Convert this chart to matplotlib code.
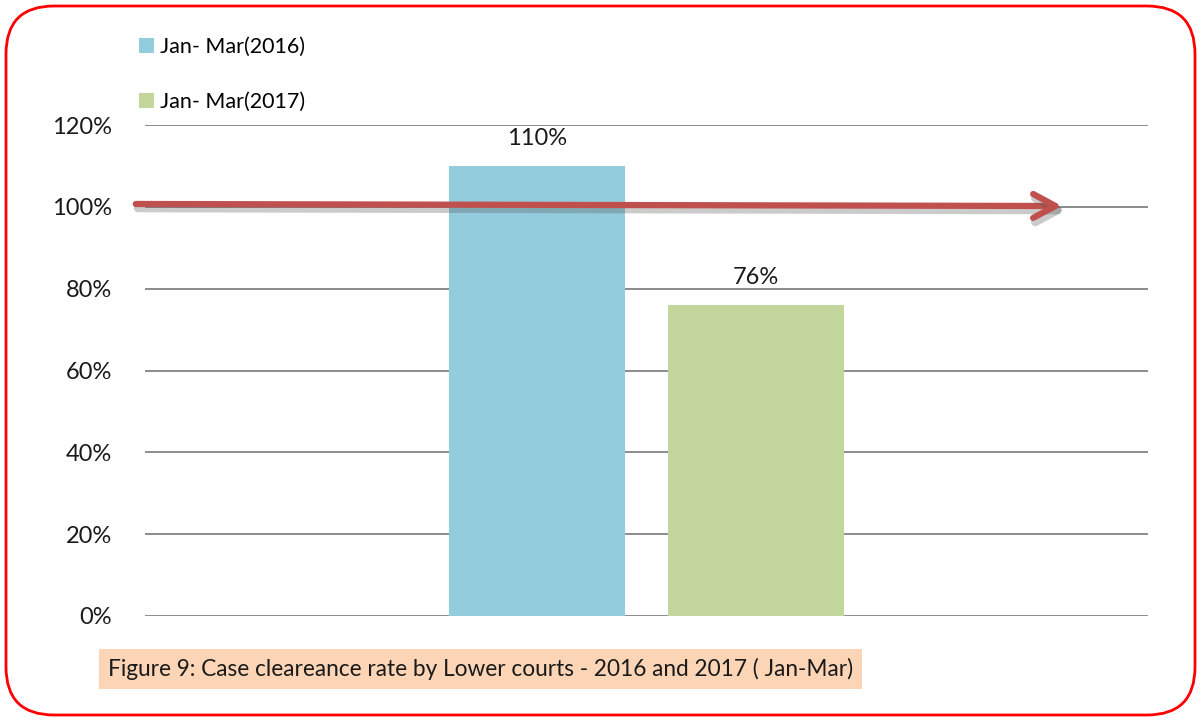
import numpy as np
import matplotlib
matplotlib.use("Agg")
from matplotlib import pyplot as plt
from matplotlib.patches import FancyBboxPatch
import matplotlib.patheffects as pe

# data
series = ['Jan- Mar(2016)', 'Jan- Mar(2017)']
rates = [110, 76]
colors = ['#93CDDD', '#C3D69B']
offsets = [-0.109, 0.109]
yticks = [0, 20, 40, 60, 80, 100, 120]
target = 100
caption = 'Figure 9: Case cleareance rate by Lower courts - 2016 and 2017 ( Jan-Mar)'

plt.rcParams['font.family'] = ['Lato', 'DejaVu Sans']

fig = plt.figure(figsize=(12.01, 7.21), dpi=100)
ax = fig.add_axes([145/1201, 1 - 616/721, (1148-145)/1201, (616-125)/721])

for off, val, col, lab in zip(offsets, rates, colors, series):
    ax.bar(off, val, width=0.1755, color=col, label=lab, zorder=2)
    ax.text(off, val + 6.8, '{}%'.format(val), ha='center', va='center', fontsize=17, color='#1a1a1a')

ax.set_xlim(-0.5, 0.5)
ax.set_ylim(0, 120)
ax.set_yticks(yticks)
ax.set_yticklabels(['{}%'.format(t) for t in yticks], fontsize=17, color='#1a1a1a')
ax.set_xticks([])
ax.tick_params(axis='y', length=0, pad=24)
for s in ax.spines.values():
    s.set_visible(False)
ax.grid(axis='y', color='#8c8c8c', linewidth=1.4, zorder=0)
ax.set_axisbelow(True)

# target arrow at 100%
ax.annotate('', xy=(0.417, target + 0.2), xytext=(-0.512, target + 0.7), annotation_clip=False,
            arrowprops=dict(arrowstyle='->,head_length=0.8,head_width=0.43', mutation_scale=20,
                            color='#C0504D', lw=4.5, capstyle='round', joinstyle='round',
                            path_effects=[pe.SimpleLineShadow(offset=(1.5, -3), shadow_color='#555555', alpha=0.3, linewidth=6),
                                          pe.Normal()]),
            zorder=5)

fig.legend(loc='upper left', bbox_to_anchor=(130/1201, 1 - 28/721), frameon=False,
           fontsize=15.5, handlelength=0.7, handleheight=0.7, handletextpad=0.3,
           labelspacing=1.65, borderaxespad=0)

fig.text(108/1201, 1 - 669/721, caption, fontsize=16.3, va='center', ha='left', color='#1a1a1a',
         bbox=dict(boxstyle='square,pad=0.38', facecolor='#FBD5B5', edgecolor='none'))

border = FancyBboxPatch((6/1201, 6/721), 1189/1201, 709/721, boxstyle='round,pad=0,rounding_size=0.04',
                        transform=fig.transFigure, facecolor='none', edgecolor='#FF0000', linewidth=2,
                        mutation_aspect=1201/721)
fig.patches.append(border)

fig.savefig('out.png', dpi=100)
